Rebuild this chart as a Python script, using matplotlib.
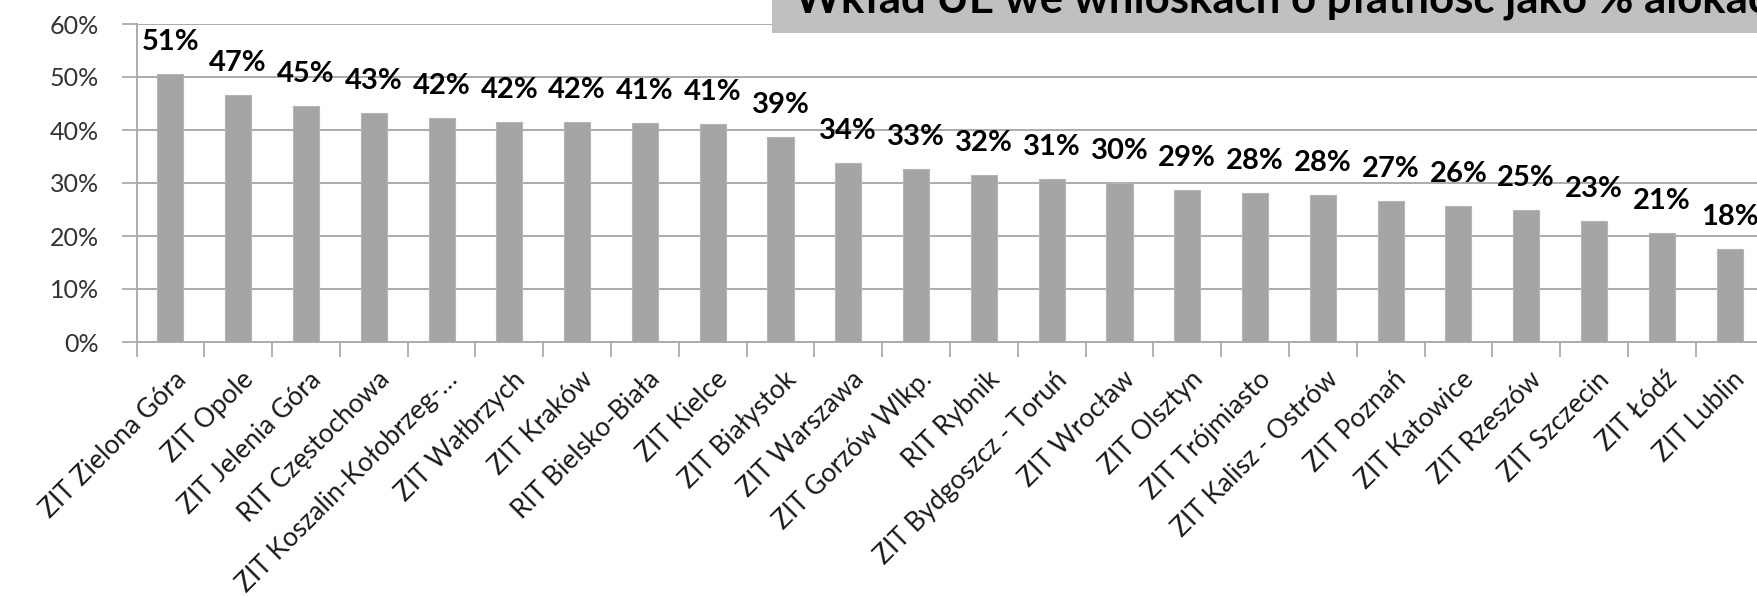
import matplotlib
matplotlib.use("Agg")
import matplotlib.pyplot as plt
from matplotlib.patches import Rectangle
from matplotlib.ticker import FixedLocator, PercentFormatter
import matplotlib.transforms as mtransforms

# ---------------- data ----------------
categories = [
    "ZIT Zielona Góra", "ZIT Opole", "ZIT Jelenia Góra", "RIT Częstochowa",
    "ZIT Koszalin-Kołobrzeg-…", "ZIT Wałbrzych", "ZIT Kraków", "RIT Bielsko-Biała",
    "ZIT Kielce", "ZIT Białystok", "ZIT Warszawa", "ZIT Gorzów Wlkp.",
    "RIT Rybnik", "ZIT Bydgoszcz - Toruń", "ZIT Wrocław", "ZIT Olsztyn",
    "ZIT Trójmiasto", "ZIT Kalisz - Ostrów", "ZIT Poznań", "ZIT Katowice",
    "ZIT Rzeszów", "ZIT Szczecin", "ZIT Łódź", "ZIT Lublin",
]
values = [50.6, 46.6, 44.6, 43.2, 42.3, 41.6, 41.6, 41.4, 41.2, 38.6, 33.8, 32.6,
          31.6, 30.7, 30.0, 28.6, 28.1, 27.8, 26.6, 25.6, 24.9, 22.8, 20.6, 17.6]
y_ticks = [0, 10, 20, 30, 40, 50, 60]
title = "Wkład UE we wnioskach o płatność jako % alokacji"

# ---------------- style ----------------
FONT = "Lato"
plt.rcParams["font.family"] = [FONT, "DejaVu Sans"]
W, H, DPI = 1758, 596, 100
fig = plt.figure(figsize=(W / DPI, H / DPI), dpi=DPI)
fig.patch.set_facecolor("white")

left_px, right_px, top_px, bottom_px = 136.5, 1763.5, 24, 342
ax = fig.add_axes([left_px / W, 1 - bottom_px / H, (right_px - left_px) / W,
                   (bottom_px - top_px) / H])

grid_c = "#ABABAB"
bar_c = "#A5A5A5"
x = list(range(len(categories)))
ax.bar(x, values, width=0.385, color=bar_c, edgecolor="#B5B5B5", linewidth=0.8,
       zorder=3)

ax.set_xlim(-0.5, len(categories) - 0.5)
ax.set_ylim(y_ticks[0], y_ticks[-1])

# y axis
ax.yaxis.set_major_locator(FixedLocator(y_ticks))
ax.yaxis.set_major_formatter(PercentFormatter(decimals=0))
ax.tick_params(axis="y", which="major", length=11, width=1.3, color=grid_c,
               direction="out", pad=16, labelsize=18, labelcolor="#333333")
ax.grid(axis="y", color=grid_c, linewidth=1.4, zorder=0)

# x axis: tick marks at category boundaries, labels at centres
ax.xaxis.set_major_locator(FixedLocator([i - 0.5 for i in x] + [len(x) - 0.5]))
ax.xaxis.set_minor_locator(FixedLocator(x))
ax.tick_params(axis="x", which="major", length=11, width=1.3, color=grid_c,
               direction="out", labelbottom=False)
ax.tick_params(axis="x", which="minor", length=0, pad=0)
fs = 20.0
ax.set_xticklabels(categories, minor=True, rotation=45, ha="right",
                   va="top", rotation_mode="anchor", fontsize=fs,
                   color="#1a1a1a")

# fit the longest label (index 4) to the area it occupies in the reference
ref_h, ref_right, ref_bottom = 230.0, 462.0, 597.0
labs = ax.get_xticklabels(minor=True)
fig.canvas.draw()
bb = labs[4].get_window_extent()
fs = fs * ref_h / bb.height
for lab in labs:
    lab.set_fontsize(fs)
fig.canvas.draw()
bb = labs[4].get_window_extent()
dx = ref_right - bb.x1
dy = (H - ref_bottom) - bb.y0
offset = mtransforms.ScaledTranslation(dx / DPI, dy / DPI, fig.dpi_scale_trans)
for lab in labs:
    lab.set_transform(lab.get_transform() + offset)

for side in ("top", "right"):
    ax.spines[side].set_visible(False)
for side in ("left", "bottom"):
    ax.spines[side].set_color(grid_c)
    ax.spines[side].set_linewidth(1.4)

# value labels
for xi, v in zip(x, values):
    ax.annotate(f"{round(v)}%", (xi, v), xytext=(0, 24), textcoords="offset pixels",
                ha="center", va="baseline", fontsize=21, fontweight="bold",
                color="black", zorder=5, annotation_clip=False)

# title box (cut off at top/right like the reference)
fig.patches.append(Rectangle((772 / W, 1 - 33 / H), 1.0, 0.2,
                             transform=fig.transFigure, facecolor="#C0C0C0",
                             edgecolor="none", zorder=10))
fig.text(795 / W, 1 - 12 / H, title, ha="left", va="baseline", fontsize=31.5,
         fontweight="bold", color="black", zorder=11)

fig.savefig("out.png", dpi=DPI)
